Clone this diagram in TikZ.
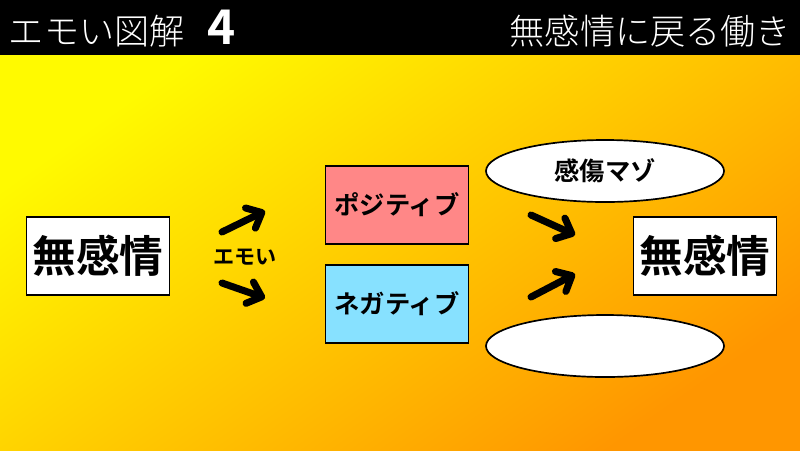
\documentclass[tikz,border=0pt]{standalone}
\usepackage{fontspec}
\usepackage{xcolor}
\usetikzlibrary{arrows.meta,shapes.geometric}
\newfontfamily\jpbold{Noto Sans CJK JP Bold}
\newfontfamily\jplight{Noto Sans CJK JP Light}
\definecolor{bgtop}{RGB}{255,250,0}
\definecolor{bgbottom}{RGB}{255,150,0}
\definecolor{posred}{RGB}{255,135,135}
\definecolor{negblue}{RGB}{135,225,255}
\tikzset{
  wordbox/.style={draw=black,line width=1.2pt,minimum width=143\pxunit,minimum height=78\pxunit,inner sep=0pt},
  bigword/.style={wordbox,font=\jpbold\fontsize{31}{31}\selectfont},
  feelbox/.style={wordbox,font=\jpbold\fontsize{18}{18}\selectfont},
  cloud/.style={ellipse,draw=black,line width=1.2pt,fill=white,minimum width=238\pxunit,minimum height=62\pxunit,font=\jpbold\fontsize{18}{18}\selectfont},
  push/.style={line width=5pt,line cap=round,-{Straight Barb[round,length=9pt,width=16pt]}}
}
\newcommand\pxunit{*0.025cm}
\begin{document}
\begin{tikzpicture}[x=0.025cm,y=-0.025cm]
    \useasboundingbox (0,0) rectangle (800,450);
    % background
    \shade[top color=bgtop,bottom color=bgbottom,shading angle=35] (0,55) rectangle (800,450);
    \fill[black] (0,0) rectangle (800,55);
    \node[anchor=west,text=white,font=\jplight\fontsize{25}{25}\selectfont] (title) at (4,31) {エモい図解};
    \node[anchor=west,text=white,font=\jpbold\fontsize{34}{34}\selectfont] (num) at (203,27) {4};
    \node[anchor=east,text=white,font=\jplight\fontsize{25}{25}\selectfont] (subtitle) at (796,31) {無感情に戻る働き};

    % left side
    \node[bigword,fill=white] (start) at (98,256) {無感情};
    \node[font=\jpbold\fontsize{15}{15}\selectfont] (emoi) at (245,257) {エモい};
    \coordinate (upfrom) at (222,232);
    \coordinate (upto) at (265,211);
    \coordinate (downfrom) at (222,283);
    \coordinate (downto) at (265,298);
    \draw[push] (upfrom) -- (upto);
    \draw[push] (downfrom) -- (downto);

    % middle
    \node[feelbox,fill=posred] (posi) at (397,205) {ポジティブ};
    \node[feelbox,fill=negblue] (nega) at (397,304) {ネガティブ};

    % right side
    \node[cloud] (sento) at (605,171) {感傷マゾ};
    \node[cloud] (blank) at (605,346) {};
    \coordinate (infromA) at (531,215);
    \coordinate (intoA) at (575,235);
    \coordinate (infromB) at (531,297);
    \coordinate (intoB) at (575,274);
    \draw[push] (infromA) -- (intoA);
    \draw[push] (infromB) -- (intoB);
    \node[bigword,fill=white] (finish) at (705,256) {無感情};
\end{tikzpicture}
\end{document}
